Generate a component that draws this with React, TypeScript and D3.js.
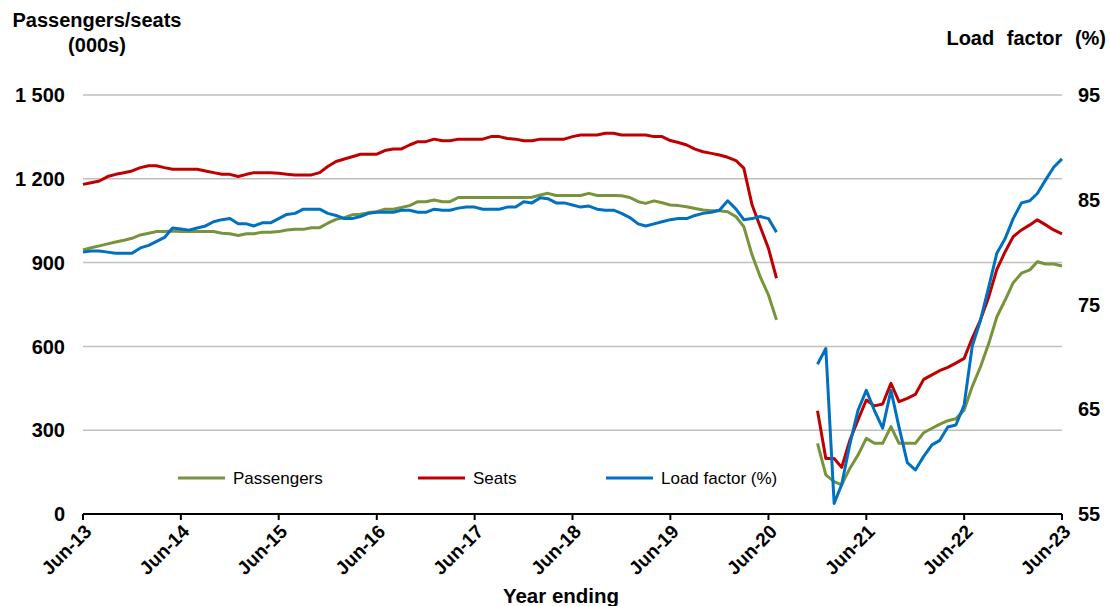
import * as d3 from "d3";
import { useEffect } from "react";

// Monthly series, year ending Jun-13 .. Jun-23 (null = no data)
const START_MONTH = new Date(2013, 5, 1);

const passengers: (number | null)[] = [
  945, 953, 960, 967, 974, 980, 987, 999, 1005, 1011, 1011, 1013,
  1011, 1011, 1011, 1011, 1011, 1005, 1003, 997, 1003, 1003, 1009, 1009,
  1011, 1017, 1019, 1019, 1025, 1025, 1041, 1055, 1061, 1071, 1073, 1079,
  1082, 1091, 1091, 1097, 1104, 1118, 1118, 1124, 1118, 1118, 1133, 1133,
  1133, 1133, 1133, 1133, 1133, 1133, 1133, 1134, 1142, 1148, 1140, 1140,
  1140, 1140, 1148, 1140, 1140, 1140, 1139, 1133, 1118, 1112, 1121, 1114,
  1106, 1104, 1100, 1094, 1088, 1086, 1086, 1082, 1064, 1029, 927, 850,
  784, 695, null, null, null, null, 253, 140, 116, 104, 164, 211,
  271, 253, 253, 313, 253, 253, 253, 291, 307, 321, 334, 341,
  372, 456, 527, 611, 706, 766, 828, 862, 874, 903, 895, 895,
  888,
];

const seats: (number | null)[] = [
  1180, 1186, 1192, 1208, 1216, 1222, 1228, 1240, 1247, 1247, 1240, 1234,
  1234, 1234, 1234, 1228, 1222, 1216, 1216, 1208, 1216, 1222, 1222, 1222,
  1220, 1216, 1214, 1214, 1214, 1222, 1244, 1262, 1271, 1279, 1288, 1288,
  1288, 1301, 1307, 1307, 1321, 1333, 1333, 1342, 1336, 1336, 1342, 1342,
  1342, 1342, 1351, 1351, 1344, 1342, 1336, 1336, 1342, 1342, 1342, 1342,
  1351, 1357, 1357, 1357, 1363, 1363, 1357, 1357, 1357, 1357, 1351, 1351,
  1337, 1330, 1321, 1306, 1297, 1291, 1285, 1277, 1265, 1238, 1106, 1029,
  951, 844, null, null, null, null, 370, 199, 199, 167, 265, 337,
  408, 387, 394, 468, 402, 414, 428, 482, 498, 513, 525, 540,
  557, 629, 695, 778, 876, 939, 993, 1017, 1035, 1053, 1035, 1017,
  1003,
];

const loadFactor: (number | null)[] = [
  80.0, 80.1, 80.1, 80.0, 79.9, 79.9, 79.9, 80.4, 80.65, 81.0, 81.4, 82.3,
  82.2, 82.1, 82.3, 82.5, 82.9, 83.1, 83.2, 82.7, 82.7, 82.5, 82.8, 82.8,
  83.2, 83.6, 83.7, 84.1, 84.1, 84.1, 83.7, 83.5, 83.2, 83.2, 83.4, 83.7,
  83.8, 83.8, 83.8, 84.0, 84.0, 83.8, 83.8, 84.1, 84.0, 84.0, 84.2, 84.3,
  84.3, 84.1, 84.1, 84.1, 84.3, 84.3, 84.8, 84.7, 85.2, 85.1, 84.7, 84.7,
  84.5, 84.3, 84.4, 84.1, 84.0, 84.0, 83.7, 83.3, 82.7, 82.5, 82.7, 82.9,
  83.1, 83.2, 83.2, 83.5, 83.7, 83.8, 84.0, 84.9, 84.1, 83.1, 83.2, 83.4,
  83.2, 81.9, null, null, null, null, 69.3, 70.8, 56.0, 57.8, 61.7, 64.9,
  66.8, 64.9, 63.2, 66.8, 63.3, 59.9, 59.2, 60.5, 61.6, 62.0, 63.3, 63.5,
  65.4, 71.0, 73.5, 76.7, 79.9, 81.3, 83.2, 84.7, 84.9, 85.6, 86.9, 88.1,
  88.9,
];

const leftTicks = [0, 300, 600, 900, 1200, 1500];
const leftTickLabels = ["0", "300", "600", "900", "1 200", "1 500"];
const rightTicks = [55, 65, 75, 85, 95];
const xTickLabels = [
  "Jun-13", "Jun-14", "Jun-15", "Jun-16", "Jun-17", "Jun-18",
  "Jun-19", "Jun-20", "Jun-21", "Jun-22", "Jun-23",
];

const WIDTH = 1110;
const HEIGHT = 606;
const MARGIN = { top: 95, right: 48, bottom: 92, left: 83 };
const FONT = "'Liberation Sans', Arial, Helvetica, sans-serif";

const GREEN = "#77933c";
const RED = "#c00000";
const BLUE = "#0070c0";

export default function App() {
  useEffect(() => {
    document.body.style.margin = "0";
  }, []);

  const dates = passengers.map((_, i) => d3.timeMonth.offset(START_MONTH, i));

  const x = d3
    .scaleTime()
    .domain([dates[0], dates[dates.length - 1]])
    .range([MARGIN.left, WIDTH - MARGIN.right]);
  const yLeft = d3
    .scaleLinear()
    .domain([0, 1500])
    .range([HEIGHT - MARGIN.bottom, MARGIN.top]);
  const yRight = d3
    .scaleLinear()
    .domain([55, 95])
    .range([HEIGHT - MARGIN.bottom, MARGIN.top]);

  const lineFor = (scale: d3.ScaleLinear<number, number>) =>
    d3
      .line<number | null>()
      .defined((d) => d !== null)
      .x((_, i) => x(dates[i]))
      .y((d) => scale(d as number));

  const xTicks = xTickLabels.map((_, i) => d3.timeMonth.offset(START_MONTH, i * 12));
  const baseY = HEIGHT - MARGIN.bottom;
  const x0 = MARGIN.left;
  const x1 = WIDTH - MARGIN.right;

  const legend = [
    { label: "Passengers", color: GREEN, x: 178 },
    { label: "Seats", color: RED, x: 418 },
    { label: "Load factor (%)", color: BLUE, x: 606 },
  ];

  return (
    <svg
      width={WIDTH}
      height={HEIGHT}
      style={{ position: "absolute", left: 0, top: 0, fontFamily: FONT }}
    >
      <rect width={WIDTH} height={HEIGHT} fill="#fff" />

      {/* gridlines */}
      {leftTicks.slice(1).map((t) => (
        <line key={t} x1={x0} x2={x1} y1={yLeft(t)} y2={yLeft(t)} stroke="#bfbfbf" strokeWidth={1.5} />
      ))}

      {/* left axis labels */}
      {leftTicks.map((t, i) => (
        <text key={t} x={65} y={yLeft(t)} dy="0.36em" textAnchor="end" fontSize={20} fontWeight="bold" fill="#000">
          {leftTickLabels[i]}
        </text>
      ))}

      {/* right axis labels */}
      {rightTicks.map((t) => (
        <text key={t} x={1078} y={yRight(t)} dy="0.36em" textAnchor="start" fontSize={20} fontWeight="bold" fill="#000">
          {t}
        </text>
      ))}

      {/* axis titles */}
      <text x={97} y={27} textAnchor="middle" fontSize={20} fontWeight="bold">Passengers/seats</text>
      <text x={97} y={52} textAnchor="middle" fontSize={20} fontWeight="bold">(000s)</text>
      <text x={1106} y={45} textAnchor="end" fontSize={20} fontWeight="bold" wordSpacing={7}>Load factor (%)</text>
      <text x={561} y={603} textAnchor="middle" fontSize={20.5} fontWeight="bold">Year ending</text>

      {/* series */}
      <path d={lineFor(yLeft)(passengers) ?? ""} fill="none" stroke={GREEN} strokeWidth={3} strokeLinejoin="round" />
      <path d={lineFor(yLeft)(seats) ?? ""} fill="none" stroke={RED} strokeWidth={3} strokeLinejoin="round" />
      <path d={lineFor(yRight)(loadFactor) ?? ""} fill="none" stroke={BLUE} strokeWidth={3} strokeLinejoin="round" />

      {/* x axis */}
      <line x1={x0} x2={x1} y1={baseY} y2={baseY} stroke="#000" strokeWidth={2} />
      {xTicks.map((d, i) => (
        <g key={i} transform={`translate(${x(d)},${baseY})`}>
          <line y1={0} y2={6} stroke="#000" strokeWidth={2} />
          <text
            transform="translate(5,14) rotate(-45)"
            textAnchor="end"
            dy="0.35em"
            fontSize={19}
            fontWeight="bold"
          >
            {xTickLabels[i]}
          </text>
        </g>
      ))}

      {/* legend */}
      {legend.map((l) => (
        <g key={l.label} transform={`translate(${l.x},478)`}>
          <line x1={0} x2={47} y1={0} y2={0} stroke={l.color} strokeWidth={3} />
          <text x={55} y={0} dy="0.35em" fontSize={17}>{l.label}</text>
        </g>
      ))}
    </svg>
  );
}
